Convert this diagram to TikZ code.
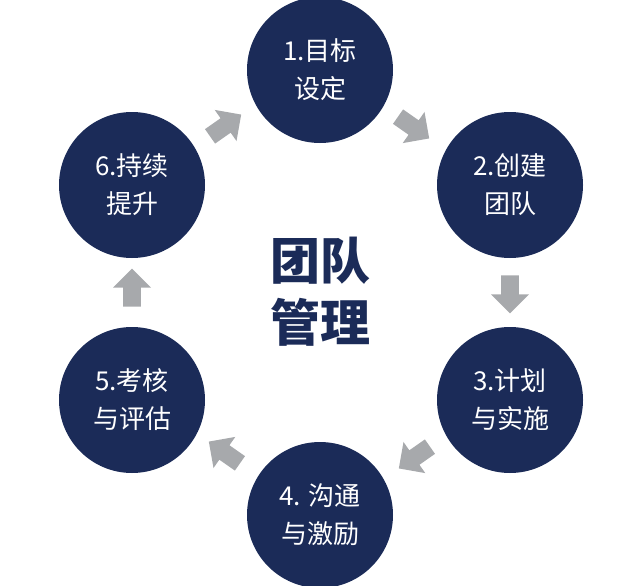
\documentclass[tikz,border=0pt]{standalone}
\usepackage{fontspec}
\setmainfont{Noto Sans CJK SC}
\usetikzlibrary{shapes.arrows}
\definecolor{navy}{HTML}{1B2B58}
\definecolor{agray}{HTML}{A7A9AC}
\begin{document}
\begin{tikzpicture}[x=1pt,y=-1pt,
  stage/.style={circle,fill=navy,minimum size=146pt,inner sep=0pt,text=white,align=center,font=\fontsize{26}{38}\selectfont},
  garrow/.style={single arrow,fill=agray,minimum height=38pt,minimum width=38pt,single arrow head extend=6pt,single arrow head indent=0pt,inner sep=5pt,rotate=#1}]
\useasboundingbox (0,0) rectangle (640,586);
\node[stage] (s1) at (320,70) {1.目标\\设定};
\node[stage] (s2) at (510,185) {2.创建\\团队};
\node[stage] (s3) at (510,400) {3.计划\\与实施};
\node[stage] (s4) at (320,515) {4. 沟通\\与激励};
\node[stage] (s5) at (132,400) {5.考核\\与评估};
\node[stage] (s6) at (132,185) {6.持续\\提升};
\node[font=\bfseries\fontsize{50}{62}\selectfont,text=navy,align=center] (c) at (320,292) {团队\\管理};
\node[garrow=-35] (a12) at (410,125) {};
\node[garrow=-90] (a23) at (510,290) {};
\node[garrow=-145] (a34) at (418,455) {};
\node[garrow=145] (a45) at (228,455) {};
\node[garrow=90] (a56) at (132,292) {};
\node[garrow=35] (a61) at (222,128) {};
\end{tikzpicture}
\end{document}
